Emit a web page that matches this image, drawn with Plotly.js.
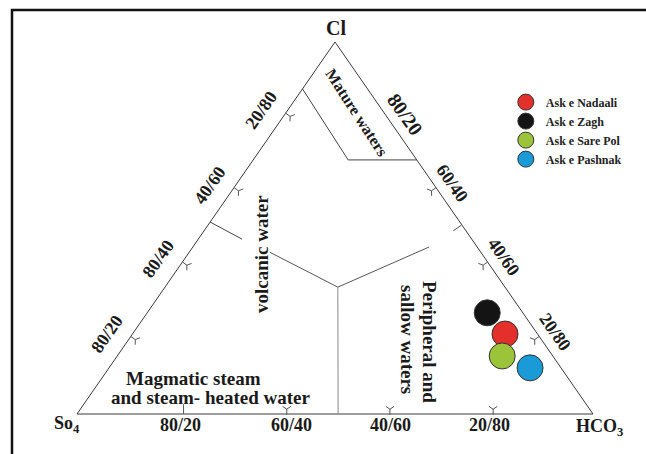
<!DOCTYPE html>
<html>
<head>
<meta charset="utf-8">
<script src="https://cdn.plot.ly/plotly-3.0.1.min.js"></script>
<style>html,body{margin:0;padding:0;background:#fff;}#chart{width:646px;height:454px;}</style>
</head>
<body>
<div id="chart"></div>
<script>
// ---------- data (percent: Cl, SO4, HCO3) ----------
const sampleNames = ["Ask e Nadaali", "Ask e Zagh", "Ask e Sare Pol", "Ask e Pashnak"];
const sampleCl   = [21.5, 27.2, 15.6, 12.4];
const sampleSO4  = [6.3, 6.9, 9.8, 6.0];
const sampleHCO3 = [72.2, 65.9, 74.6, 81.6];
const sampleColors = ["#e4302a", "#141414", "#9bc43b", "#1a9ad7"];

// triangle vertices (Cl, SO4, HCO3)
const vertexCl   = [0, 100, 0, 0];
const vertexSO4  = [100, 0, 0, 100];
const vertexHCO3 = [0, 0, 100, 0];

// field boundaries (Giggenbach Cl-SO4-HCO3)
const matureCl   = [87.4, 68.3, 68.3];
const matureHCO3 = [0, 18.4, 31.7];
const volcUpperCl   = [51.6, 47.0];
const volcUpperHCO3 = [0, 8.5];
const branchLeftCl   = [43.5, 34.1];
const branchLeftHCO3 = [15.6, 33.5];
const branchRightCl   = [34.1, 44.9];
const branchRightHCO3 = [33.5, 45.8];
const stemCl   = [34.1, 0];
const stemHCO3 = [33.5, 50.6];

// edge ticks
const bottomTickHCO3 = [20, 40, 60, 80];
const bottomTickText = ["80/20", "60/40", "40/60", "20/80"];
const leftTickCl = [80, 60, 40, 20];
const leftTickText = ["20/80", "40/60", "80/40", "80/20"];
const rightTickCl = [80, 60, 40, 20];
const rightTickText = ["80/20", "60/40", "40/60", "20/80"];
const rightMarkCl = [60, 50, 40, 20];

// ---------- helpers ----------
function tx(cl, so4, hco3) { const s = cl + so4 + hco3; return hco3 / s + 0.5 * cl / s; }
function ty(cl, so4, hco3) { const s = cl + so4 + hco3; return cl / s; }
function lineFromClHCO3(cl, hco3) {
  return { x: cl.map((c, i) => tx(c, 100 - c - hco3[i], hco3[i])),
           y: cl.map((c, i) => ty(c, 100 - c - hco3[i], hco3[i])) };
}
const FONT = "Liberation Serif, Times New Roman, serif";
const edgeColor = "#3a3a3a";
const inset = 1.3;

const data = [];
function addLine(cl, hco3, color) {
  const p = lineFromClHCO3(cl, hco3);
  data.push({ type: "scatter", mode: "lines", x: p.x, y: p.y, showlegend: false, hoverinfo: "skip",
    line: { color: color, width: 1 } });
}
// triangle
data.push({ type: "scatter", mode: "lines",
  x: vertexCl.map((c, i) => tx(c, vertexSO4[i], vertexHCO3[i])),
  y: vertexCl.map((c, i) => ty(c, vertexSO4[i], vertexHCO3[i])),
  showlegend: false, hoverinfo: "skip", line: { color: edgeColor, width: 1 } });
addLine(matureCl, matureHCO3, "#444");
addLine(volcUpperCl, volcUpperHCO3, "#444");
addLine(branchLeftCl, branchLeftHCO3, "#555");
addLine(branchRightCl, branchRightHCO3, "#555");
addLine(stemCl, stemHCO3, "#8a8a8a");

// tick marks
function tickTrace(xs, ys, symbols, angle, size) {
  return { type: "scatter", mode: "markers", x: xs, y: ys, showlegend: false, hoverinfo: "skip",
    cliponaxis: false,
    marker: { symbol: symbols, angle: angle, size: size, color: "#555", line: { color: "#555", width: 1 } } };
}
data.push(tickTrace(
  bottomTickHCO3.map(v => tx(inset, 100 - v - inset, v)),
  bottomTickHCO3.map(v => ty(inset, 100 - v - inset, v)),
  bottomTickHCO3.map((v, i) => i === 0 ? "line-ns" : "y-down"), 0, 7));
data.push(tickTrace(
  leftTickCl.map(v => tx(v, 100 - v - inset, inset)),
  leftTickCl.map(v => ty(v, 100 - v - inset, inset)),
  "y-left", 35, 7));
data.push(tickTrace(
  rightMarkCl.map(v => tx(v, inset, 100 - v - inset)),
  rightMarkCl.map(v => ty(v, inset, 100 - v - inset)),
  rightMarkCl.map(v => v === 50 ? "line-ew" : "y-right"),
  -35, 7));

// samples (draw order: Zagh under Nadaali under Sare Pol)
const drawOrder = [1, 0, 2, 3];
drawOrder.forEach(i => {
  data.push({ type: "scatter", mode: "markers", name: sampleNames[i], legendrank: i + 1,
    x: [tx(sampleCl[i], sampleSO4[i], sampleHCO3[i])],
    y: [ty(sampleCl[i], sampleSO4[i], sampleHCO3[i])],
    cliponaxis: false,
    marker: { size: 26, color: sampleColors[i], line: { color: "#333", width: 1 } } });
});

// ---------- annotations ----------
const annotations = [];
function pxX(p) { return p / 646; }
function pxY(p) { return 1 - p / 454; }
function txt(text, x, y, size, angle, extra) {
  return Object.assign({ text: text, xref: "paper", yref: "paper", x: pxX(x), y: pxY(y),
    xanchor: "center", yanchor: "middle", showarrow: false, textangle: angle || 0,
    font: { family: FONT, size: size, color: "#1a1a1a", weight: "bold" } }, extra || {});
}
// vertex labels
annotations.push(Object.assign(txt("Cl", 0, 0, 20), { xref: "x", yref: "y",
  x: tx(100, 0, 0), y: ty(100, 0, 0), yshift: 14, xshift: 1 }));
annotations.push(Object.assign(txt("So<sub>4</sub>", 0, 0, 18), { xref: "x", yref: "y",
  x: tx(0, 100, 0), y: ty(0, 100, 0), yshift: -10, xshift: -10 }));
annotations.push(Object.assign(txt("HCO<sub>3</sub>", 0, 0, 18), { xref: "x", yref: "y",
  x: tx(0, 0, 100), y: ty(0, 0, 100), yshift: -13, xshift: 6 }));
// edge tick labels
bottomTickHCO3.forEach((v, i) => annotations.push(Object.assign(txt(bottomTickText[i], 0, 0, 18),
  { xref: "x", yref: "y", x: tx(0, 100 - v, v), y: ty(0, 100 - v, v), yshift: -11, xshift: i === 1 ? 8 : (i === 2 ? 4 : 0) })));
leftTickCl.forEach((v, i) => annotations.push(Object.assign(txt(leftTickText[i], 0, 0, 18, -55),
  { xref: "x", yref: "y", x: tx(v, 100 - v, 0), y: ty(v, 100 - v, 0), xshift: -22, yshift: 6 })));
rightTickCl.forEach((v, i) => annotations.push(Object.assign(txt(rightTickText[i], 0, 0, i === 0 ? 20 : 18, 55),
  { xref: "x", yref: "y", x: tx(v, 0, 100 - v), y: ty(v, 0, 100 - v), xshift: i === 0 ? 18 : 14, yshift: i === 0 ? 2 : 8 })));
// field labels
annotations.push(txt("Mature waters", 357, 112, 16, 57));
annotations.push(txt("volcanic water", 261, 254, 19, -90));
annotations.push(txt("Peripheral and", 430, 342, 19, 90));
annotations.push(txt("sallow waters", 408, 339, 19, 90));
annotations.push(txt("Magmatic steam", 193, 378, 19, 0));
annotations.push(txt("and steam- heated water", 211, 397, 19, 0));

const layout = {
  width: 646, height: 454, autosize: false,
  margin: { l: 0, r: 0, t: 0, b: 0 },
  paper_bgcolor: "#ffffff", plot_bgcolor: "#ffffff",
  xaxis: { range: [-77 / 516, 569 / 516], visible: false, fixedrange: true },
  yaxis: { range: [-40 / 372, 414 / 372], visible: false, fixedrange: true },
  showlegend: true,
  legend: { x: 0.783, y: 0.807, xanchor: "left", yanchor: "top", bgcolor: "rgba(0,0,0,0)",
    itemsizing: "trace", font: { family: FONT, size: 12, color: "#222", weight: "bold" } },
  shapes: [{ type: "rect", xref: "paper", yref: "paper", x0: 12 / 646, x1: 1.05, y0: -0.05, y1: 1 - 10 / 454,
    line: { color: "#111", width: 2.5 }, fillcolor: "rgba(0,0,0,0)" }],
  annotations: annotations
};
Plotly.newPlot("chart", data, layout, { displayModeBar: false, staticPlot: true });
</script>
</body>
</html>
